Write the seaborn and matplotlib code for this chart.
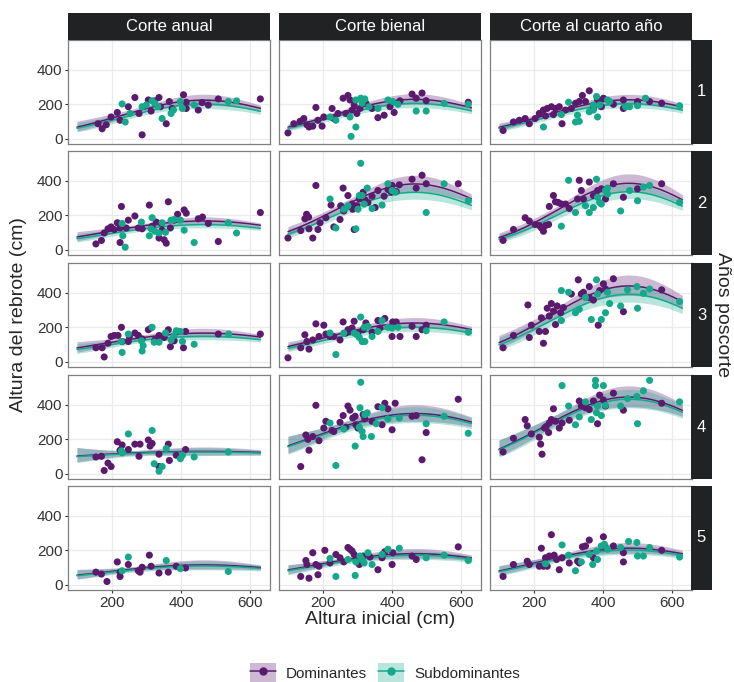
import numpy as np
import pandas as pd
import matplotlib
matplotlib.use("Agg")
import matplotlib.pyplot as plt
import seaborn as sns
from matplotlib.patches import Patch
from matplotlib.lines import Line2D
from matplotlib.legend_handler import HandlerTuple

# ---------------- data ----------------
cortes = ["Corte anual", "Corte bienal", "Corte al cuarto año"]
anios = [1, 2, 3, 4, 5]
grupos = ["Dominantes", "Subdominantes"]
x_ticks = [200, 400, 600]
y_ticks = [0, 200, 400]

# Corte anual
x_A1_dom = [159,171,183,197,215,223,247,266,278,287,305,313,324,336,340,357,366,374,407,415,450,461,479,508,630,415]
y_A1_dom = [88,59,82,127,153,108,186,239,147,24,225,161,220,239,186,88,216,176,255,212,167,210,196,231,231,176]
x_A1_sub = [229,238,252,287,299,316,324,345,371,378,398,404,438,537,561,333]
y_A1_sub = [202,98,147,186,196,220,206,118,147,167,216,176,196,216,220,186]
x_A2_dom = [153,169,177,188,197,206,215,223,227,223,241,247,266,276,287,308,316,328,336,343,351,357,363,369,380,390,409,415,450,462,479,508,630,345]
y_A2_dom = [35,55,98,122,133,118,157,127,251,43,127,172,196,127,122,259,137,161,69,153,59,39,278,127,172,206,231,212,180,190,153,49,216,114]
x_A2_sub = [229,231,238,285,308,313,316,324,336,345,355,371,380,398,409,438,537,561]
y_A2_sub = [153,82,16,161,82,122,186,108,98,157,102,172,176,172,114,43,157,98]
x_A3_dom = [153,171,177,188,197,206,217,227,229,247,250,266,276,287,305,313,324,336,351,363,369,380,392,407,413,508,630]
y_A3_dom = [82,82,29,108,147,153,153,200,118,118,147,167,153,133,186,196,127,153,141,186,88,122,176,82,176,161,161]
x_A3_sub = [227,229,247,285,287,290,316,322,336,355,371,386,398,404,438,380,538]
y_A3_sub = [118,55,161,122,63,94,200,114,114,167,127,180,176,118,102,153,161]
x_A4_dom = [153,169,177,188,197,215,223,229,247,266,281,278,305,310,316,336,336,363,366,386,413]
y_A4_dom = [98,102,20,63,43,186,137,167,141,172,172,102,196,161,176,114,43,172,78,108,141]
x_A4_sub = [229,247,316,322,336,345,357,398,404,438,537,227]
y_A4_sub = [122,231,251,59,16,43,147,88,108,98,127,133]
x_A5_dom = [153,169,185,215,223,223,247,276,281,287,308,313,336,363,386,413]
y_A5_dom = [74,63,20,133,74,49,118,82,74,102,172,108,69,74,108,98]
x_A5_sub = [229,247,357,398,537]
y_A5_sub = [82,161,141,94,78]

# Corte bienal
x_B1_dom = [98,115,133,144,153,159,170,179,185,197,202,226,231,243,258,266,272,278,284,290,298,307,324,342,359,377,394,406,423,458,470,487,499,621]
y_B1_dom = [35,88,102,118,82,69,74,182,108,74,127,176,118,147,235,147,251,225,167,196,147,176,206,176,123,137,186,153,220,259,235,265,221,212]
x_B1_sub = [220,237,278,295,281,295,309,321,333,359,388,402,417,470,499,551,621,313]
y_B1_sub = [127,108,127,69,15,225,235,231,186,176,225,216,200,161,161,206,200,206]
x_B2_dom = [98,135,147,152,158,159,170,179,185,191,208,223,231,249,251,258,260,272,284,286,290,298,305,316,321,330,342,351,359,377,388,398,400,412,421,458,470,487,499,592]
y_B2_dom = [69,112,180,206,190,122,69,372,118,157,186,259,133,176,255,357,225,314,265,235,118,255,294,333,290,274,310,245,343,310,349,333,372,337,376,408,357,431,382,382]
x_B2_sub = [220,237,260,272,295,301,309,313,319,328,342,371,388,400,409,499,551,621,305]
y_B2_sub = [294,127,235,255,122,235,500,314,265,357,239,259,382,343,333,216,382,284,314]
x_B3_dom = [98,135,147,153,159,170,179,188,202,208,220,231,249,258,266,272,278,284,290,301,316,324,342,359,365,379,400,402,412,423,458,470,487,499]
y_B3_dom = [24,82,157,118,74,127,220,147,212,161,147,147,127,231,167,186,176,196,235,167,186,225,172,239,196,251,147,231,231,147,206,147,186,212]
x_B3_sub = [220,237,260,290,298,309,313,319,321,330,342,359,371,388,400,417,499,551,621,305]
y_B3_sub = [167,43,167,167,157,259,118,200,118,206,147,176,239,200,196,200,180,231,172,141]
x_B4_dom = [135,150,156,159,170,179,188,202,208,226,231,249,258,266,272,278,286,293,295,301,316,321,342,359,371,379,388,400,409,458,470,487,499,592]
y_B4_dom = [43,225,200,137,216,396,192,265,304,251,245,298,337,270,392,368,323,333,284,265,343,318,304,388,284,408,376,255,408,333,337,82,239,431]
x_B4_sub = [220,237,260,293,307,309,313,316,321,328,340,354,371,388,421,499,551,621,305]
y_B4_sub = [294,49,259,161,382,529,245,216,343,353,216,290,382,318,323,290,333,235,270]
x_B5_dom = [135,150,153,159,170,179,185,188,205,220,237,249,260,272,278,284,290,298,305,316,336,359,371,379,400,402,458,470,592]
y_B5_dom = [49,141,118,39,186,118,59,108,200,127,176,157,133,216,206,196,176,147,118,167,161,88,157,192,118,186,167,147,220]
x_B5_sub = [220,237,272,293,295,307,319,330,342,371,388,421,499,551,621,313]
y_B5_sub = [153,49,147,55,133,167,127,186,118,176,206,212,157,172,141,147]

# Corte al cuarto año
x_C1_dom = [110,140,157,174,186,203,215,227,233,238,250,256,262,273,281,291,308,320,331,340,349,360,372,384,395,401,430,459,459,500,535,570]
y_C1_dom = [49,98,108,118,88,118,147,167,133,176,186,141,176,186,88,167,176,206,216,251,216,278,176,225,186,235,200,176,225,216,216,206]
x_C1_sub = [227,279,300,320,326,331,360,372,381,384,390,413,419,465,477,500,523,622,372]
y_C1_sub = [69,141,212,98,137,102,157,167,245,127,196,225,216,186,186,192,235,192,196]
x_C2_dom = [110,140,174,186,203,215,221,227,233,242,244,256,262,270,279,291,302,326,331,337,343,360,372,384,395,407,430,459,500,570]
y_C2_dom = [55,118,186,167,147,141,127,108,141,147,251,314,278,274,265,265,239,294,402,343,294,392,314,343,353,294,382,304,353,382]
x_C2_sub = [279,300,320,349,360,372,381,384,390,395,407,413,451,477,500,517,535,622,413]
y_C2_sub = [137,402,216,255,216,245,408,304,274,265,343,323,225,343,284,363,372,274,357]
x_C3_dom = [110,140,182,186,192,215,221,227,233,238,244,250,256,262,267,277,285,308,328,337,343,360,372,386,390,401,407,430,459,570,360]
y_C3_dom = [82,153,329,141,212,176,255,108,176,310,265,337,294,216,323,284,314,392,474,392,402,435,357,212,412,451,421,480,290,416,372]
x_C3_sub = [279,279,300,320,331,349,366,381,384,395,407,413,451,471,498,500,517,535,622,419]
y_C3_sub = [239,412,402,284,304,372,245,474,392,245,284,402,323,416,435,310,396,421,349,337]
x_C4_dom = [110,140,174,180,192,215,219,223,230,235,242,244,250,256,262,273,281,302,331,337,343,360,372,384,390,401,407,430,459,570,349]
y_C4_dom = [127,206,314,278,231,212,172,114,265,274,239,294,314,376,304,265,294,310,421,392,408,372,421,290,455,427,392,466,368,408,382]
x_C4_sub = [281,300,320,331,349,366,378,378,381,395,401,407,451,471,498,500,517,535,622,384]
y_C4_sub = [510,392,284,329,416,314,540,510,353,337,510,396,392,435,447,290,480,540,416,392]
x_C5_dom = [110,140,180,186,215,221,227,233,238,244,250,258,265,273,281,302,331,340,349,360,372,401,407,430,459,459,570,326]
y_C5_dom = [49,118,137,118,108,212,108,157,108,167,290,172,147,88,157,127,127,220,225,259,157,278,216,225,133,186,200,137]
x_C5_sub = [233,281,300,320,337,360,370,381,384,395,404,413,451,474,498,500,517,535,622]
y_C5_sub = [122,231,172,82,133,176,118,196,147,225,235,206,216,251,245,167,167,216,161]

# ---------------- tidy table ----------------
g = globals()
rows = []
for ci, corte in enumerate(cortes):
    letter = "ABC"[ci]
    for a in anios:
        for grp, tag in zip(grupos, ["dom", "sub"]):
            xs = g[f"x_{letter}{a}_{tag}"]
            ys = g[f"y_{letter}{a}_{tag}"]
            for xv, yv in zip(xs, ys):
                rows.append((corte, a, grp, xv, yv))
df = pd.DataFrame(rows, columns=["corte", "anio", "grupo", "x", "y"])

colors = {"Dominantes": "#5C1A6E", "Subdominantes": "#14A98B"}

# ---------------- model ----------------
# Gamma GLM, log link:
# log mu = a_panel + b_panel * (z + c_corte * z^2) + d_year * subdominante
xm, xsd = df["x"].mean(), df["x"].std()
xgrid = np.linspace(df["x"].min(), df["x"].max(), 200)
zgrid = (xgrid - xm) / xsd

y_all = df["y"].to_numpy(float)
z_all = (df["x"].to_numpy(float) - xm) / xsd
gd_all = (df["grupo"] == "Subdominantes").to_numpy(float)
panel_keys = [(c, a) for c in cortes for a in anios]
panel_idx = np.array([panel_keys.index((c, a)) for c, a in zip(df["corte"], df["anio"])])
col_idx = np.array([cortes.index(c) for c in df["corte"]])
year_idx = np.array([anios.index(a) for a in df["anio"]])
NP, NY = len(panel_keys), len(anios)

def build_X(cs):
    X = np.zeros((len(y_all), 2 * NP + NY))
    f = z_all + np.array(cs)[col_idx] * z_all ** 2
    X[np.arange(len(y_all)), panel_idx] = 1.0
    X[np.arange(len(y_all)), NP + panel_idx] = f
    X[np.arange(len(y_all)), 2 * NP + year_idx] = gd_all
    return X

def gamma_fit(X):
    eta = np.log(y_all)
    beta = None
    for _ in range(40):
        mu = np.exp(eta)
        work = eta + (y_all - mu) / mu
        beta_new, *_ = np.linalg.lstsq(X, work, rcond=None)
        eta = X @ beta_new
        if beta is not None and np.max(np.abs(beta_new - beta)) < 1e-8:
            beta = beta_new
            break
        beta = beta_new
    mu = np.exp(X @ beta)
    dev = 2 * np.sum(-np.log(y_all / mu) + (y_all - mu) / mu)
    return beta, mu, dev

cs = [-0.3, -0.3, -0.3]
c_grid = np.linspace(-1.0, 0.5, 61)
for _ in range(2):
    for k in range(3):
        best = (np.inf, cs[k])
        for c in c_grid:
            trial = list(cs)
            trial[k] = c
            _, _, dev = gamma_fit(build_X(trial))
            if dev < best[0]:
                best = (dev, c)
        cs[k] = best[1]

X_fin = build_X(cs)
beta, mu, _ = gamma_fit(X_fin)
phi = np.sum(((y_all - mu) / mu) ** 2) / (len(y_all) - X_fin.shape[1])
cov = phi * np.linalg.pinv(X_fin.T @ X_fin)

def panel_curves(ci, ri):
    p = panel_keys.index((cortes[ci], anios[ri]))
    f = zgrid + cs[ci] * zgrid ** 2
    out = {}
    for grp, gv in zip(grupos, [0.0, 1.0]):
        Xg = np.zeros((len(zgrid), X_fin.shape[1]))
        Xg[:, p] = 1.0
        Xg[:, NP + p] = f
        Xg[:, 2 * NP + ri] = gv
        eta = Xg @ beta
        se = np.sqrt(np.einsum("ij,jk,ik->i", Xg, cov, Xg))
        out[grp] = (np.exp(eta), np.exp(eta - 1.96 * se), np.exp(eta + 1.96 * se))
    return out

# ---------------- style ----------------
sns.set_theme(style="white")
plt.rcParams["font.family"] = ["Liberation Sans", "DejaVu Sans"]

W, H = 734, 682
fig = plt.figure(figsize=(W / 100, H / 100), dpi=100)

col_left = [68, 279, 490]
pw = 202
row_top = [40, 151, 263, 375, 486]
ph = 104
strip_col = "#202224"

def px_axes(l, t, w, h):
    return fig.add_axes([l / W, 1 - (t + h) / H, w / W, h / H])

for ci, corte in enumerate(cortes):
    dcol = df[df["corte"] == corte]
    for ri, a in enumerate(anios):
        ax = px_axes(col_left[ci], row_top[ri], pw, ph)
        sub = dcol[dcol["anio"] == a]
        fits = panel_curves(ci, ri)
        for grp in grupos:
            pred, lo, hi = fits[grp]
            ax.fill_between(xgrid, lo, hi, color=colors[grp], alpha=0.3, lw=0, zorder=2)
        for grp in grupos:
            pred, lo, hi = fits[grp]
            ax.plot(xgrid, pred, color=colors[grp], lw=1.1, zorder=3)
        sns.scatterplot(data=sub, x="x", y="y", hue="grupo", palette=colors,
                        hue_order=grupos, s=26, linewidth=0, legend=False,
                        ax=ax, zorder=4)
        ax.set_xlim(72, 658)
        ax.set_ylim(-29, 571)
        ax.set_xticks(x_ticks)
        ax.set_yticks(y_ticks)
        ax.grid(True, color="#EBEBEB", lw=0.9, zorder=0)
        ax.set_axisbelow(True)
        for sp in ax.spines.values():
            sp.set_color("#7F7F7F")
            sp.set_linewidth(0.9)
        ax.set_xlabel("")
        ax.set_ylabel("")
        ax.tick_params(axis="both", length=2.5, width=0.8, color="#333333",
                       labelsize=11, labelcolor="#333333", pad=1.5)
        if ci == 0:
            ax.tick_params(axis="y", left=True)
        else:
            ax.tick_params(axis="y", left=False, labelleft=False)
        if ri == len(anios) - 1:
            ax.tick_params(axis="x", bottom=True)
        else:
            ax.tick_params(axis="x", bottom=False, labelbottom=False)
        if ci == len(cortes) - 1:
            sax = px_axes(691, row_top[ri], 21, ph)
            sax.set_facecolor(strip_col)
            sax.set_xticks([]); sax.set_yticks([])
            for sp in sax.spines.values():
                sp.set_visible(False)
            sax.text(0.5, 0.5, str(a), color="white", fontsize=12,
                     ha="center", va="center", transform=sax.transAxes)
    sax = px_axes(col_left[ci], 13, pw, 27)
    sax.set_facecolor(strip_col)
    sax.set_xticks([]); sax.set_yticks([])
    for sp in sax.spines.values():
        sp.set_visible(False)
    sax.text(0.5, 0.5, corte, color="white", fontsize=12,
             ha="center", va="center", transform=sax.transAxes)

fig.text(380 / W, 1 - 620 / H, "Altura inicial (cm)", ha="center", va="center", fontsize=14)
fig.text(19 / W, 1 - 315 / H, "Altura del rebrote (cm)", ha="center", va="center",
         rotation=90, fontsize=14)
fig.text(722 / W, 1 - 315 / H, "Años poscorte", ha="center", va="center",
         rotation=-90, fontsize=14)

handles = [(Patch(facecolor=colors[g_], alpha=0.3, edgecolor="none"),
            Line2D([], [], color=colors[g_], lw=1.1, marker="o", markersize=5))
           for g_ in grupos]
fig.legend(handles, grupos, handler_map={tuple: HandlerTuple(ndivide=1, pad=0)},
           loc="center", bbox_to_anchor=(385 / W, 1 - 673 / H), ncol=2,
           frameon=False, fontsize=11, handlelength=1.7, handleheight=1.6,
           columnspacing=0.7, handletextpad=0.65)

fig.savefig("out.png", dpi=100)
